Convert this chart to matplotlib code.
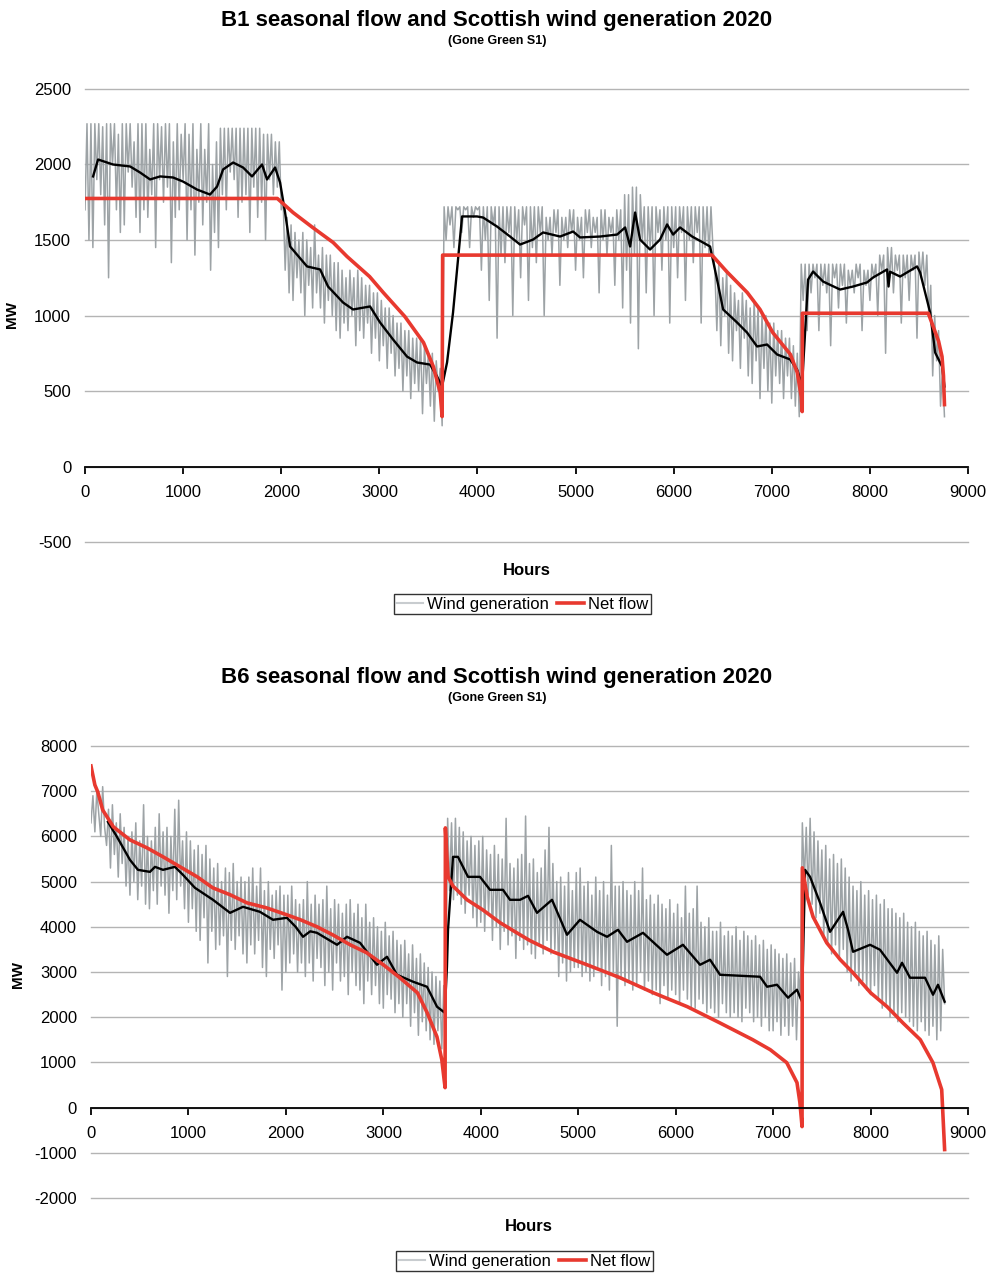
import numpy as np
import matplotlib.pyplot as plt
from matplotlib.lines import Line2D

plt.rcParams["font.family"] = ["Liberation Sans", "DejaVu Sans"]
plt.rcParams["axes.unicode_minus"] = False

# wind generation sampled every 20 hours (0 .. 8760)
wind_hours = np.arange(0, 8761, 20)

b1_wind = [
    1700, 2270, 1500, 2270, 1450, 2270, 1900, 2270, 1800, 2250,
    1600, 2270, 1250, 2270, 2000, 2270, 1700, 2200, 1550, 2270,
    1600, 2270, 1950, 2270, 1850, 2150, 1650, 2270, 1550, 2270,
    1700, 2270, 1650, 2100, 1800, 2270, 1450, 2270, 1900, 2250,
    1750, 2270, 1850, 2270, 1350, 2150, 1650, 2270, 1700, 2200,
    1900, 2270, 1500, 2200, 1700, 2270, 1400, 2100, 1750, 2270,
    1600, 2100, 1750, 2270, 1300, 2000, 1550, 2150, 1450, 2240,
    1800, 2240, 1700, 2240, 1950, 2240, 1900, 2240, 1650, 2240,
    1750, 2240, 1800, 2240, 1550, 2240, 1850, 2240, 1650, 2240,
    1750, 2200, 1500, 2200, 1900, 2200, 1800, 2150, 1850, 2150,
    1700, 1750, 1300, 1650, 1150, 1600, 1100, 1550, 1250, 1500,
    1150, 1550, 1000, 1500, 1200, 1450, 1050, 1600, 1150, 1400,
    1050, 1450, 950, 1400, 1100, 1400, 1000, 1350, 900, 1350,
    850, 1300, 950, 1250, 900, 1300, 1000, 1250, 800, 1300,
    900, 1250, 850, 1200, 950, 1200, 750, 1150, 850, 1150,
    700, 1100, 800, 1050, 650, 1050, 750, 1000, 600, 950,
    650, 950, 500, 900, 600, 900, 450, 850, 550, 850,
    500, 850, 350, 800, 550, 750, 400, 750, 300, 700,
    500, 650, 270, 1720, 1500, 1720, 1600, 1720, 1450, 1720,
    1700, 1720, 1550, 1720, 1700, 1720, 1450, 1720, 1650, 1720,
    1700, 1720, 1300, 1720, 1500, 1720, 1100, 1720, 1600, 1720,
    850, 1720, 1400, 1720, 1350, 1720, 1550, 1720, 1000, 1720,
    1500, 1700, 1250, 1720, 1600, 1720, 1100, 1720, 1450, 1720,
    1350, 1720, 1550, 1720, 1000, 1650, 1500, 1650, 1400, 1700,
    1550, 1700, 1200, 1650, 1500, 1650, 1450, 1700, 1550, 1700,
    1300, 1650, 1500, 1650, 1250, 1700, 1550, 1700, 1450, 1650,
    1550, 1650, 1150, 1700, 1500, 1700, 1400, 1650, 1550, 1650,
    1200, 1700, 1500, 1700, 1050, 1800, 1300, 1800, 950, 1850,
    1400, 1850, 780, 1800, 1500, 1720, 1150, 1720, 1450, 1720,
    1000, 1720, 1550, 1700, 1300, 1720, 1500, 1720, 950, 1720,
    1450, 1720, 1250, 1720, 1550, 1720, 1100, 1720, 1500, 1720,
    1350, 1720, 1550, 1720, 950, 1720, 1450, 1720, 1400, 1720,
    1450, 1300, 900, 1350, 800, 1250, 1000, 1300, 750, 1200,
    700, 1150, 900, 1100, 650, 1150, 850, 1100, 600, 1050,
    550, 1100, 700, 1050, 450, 1000, 650, 1000, 500, 950,
    420, 950, 600, 900, 550, 900, 450, 850, 600, 850,
    450, 800, 400, 750, 330, 1340, 1100, 1340, 900, 1340,
    1150, 1340, 1250, 1340, 900, 1340, 1200, 1340, 1150, 1340,
    800, 1340, 1250, 1340, 1050, 1340, 1200, 1340, 950, 1300,
    1200, 1300, 1150, 1340, 1250, 1340, 900, 1300, 1200, 1300,
    1100, 1340, 1250, 1340, 1000, 1400, 1300, 1400, 750, 1450,
    1250, 1450, 1150, 1400, 1300, 1400, 950, 1400, 1250, 1400,
    1100, 1400, 1300, 1400, 850, 1420, 1250, 1420, 1200, 1400,
    1000, 1200, 600, 1000, 700, 900, 400, 650, 330,
]

b6_wind = [
    6300, 6900, 6100, 7000, 6500, 6000, 7100, 6200, 5800, 6600,
    5300, 6700, 5600, 6300, 5100, 6500, 5400, 6200, 4900, 6000,
    4700, 6100, 5000, 6300, 4600, 5900, 4900, 6700, 4500, 6000,
    4400, 5900, 4800, 6200, 4500, 6500, 4900, 6100, 4700, 6200,
    4300, 6000, 4800, 6600, 4600, 6800, 4900, 5900, 4400, 6100,
    4100, 5900, 4400, 5700, 3900, 5800, 3700, 5600, 4200, 5800,
    3200, 5500, 3900, 5300, 3500, 5400, 3600, 5000, 3800, 5300,
    2900, 5200, 3700, 5400, 3500, 5000, 3800, 5100, 3400, 5000,
    3200, 5100, 3600, 5300, 3400, 4900, 3700, 5300, 3100, 4800,
    2900, 5000, 3500, 4700, 3300, 4800, 3600, 4900, 2600, 4700,
    3000, 4700, 3200, 4900, 3400, 4600, 3000, 4500, 3200, 4600,
    2900, 5000, 3200, 4500, 2800, 4700, 3300, 4500, 3100, 4600,
    2700, 4900, 3000, 4400, 2600, 4600, 3200, 4500, 2800, 4300,
    2900, 4500, 2500, 4600, 3000, 4300, 2700, 4500, 2600, 4200,
    2300, 4500, 2800, 4100, 2500, 4200, 2700, 4000, 2300, 3900,
    2200, 4100, 2500, 3800, 2400, 3900, 2100, 3700, 2300, 3600,
    2000, 3700, 2300, 3400, 1800, 3600, 2100, 3300, 1600, 3400,
    1900, 3200, 1700, 3100, 1500, 3000, 1400, 2900, 1700, 2800,
    1300, 2700, 2500, 6400, 4800, 6300, 4600, 6400, 4700, 6200,
    4500, 6100, 4300, 5900, 4700, 6000, 4200, 5800, 4000, 5900,
    4100, 6000, 3900, 5700, 4300, 5600, 3700, 5800, 4000, 5600,
    3500, 5500, 3900, 6400, 3600, 5400, 3800, 5300, 3300, 5500,
    3700, 5600, 3500, 6450, 3600, 5400, 3400, 5500, 3300, 5200,
    3600, 5300, 3400, 5700, 3700, 6200, 3400, 5400, 3500, 5000,
    2900, 5100, 3200, 4900, 2800, 5200, 3000, 4800, 3100, 5200,
    3100, 5300, 2900, 4900, 3000, 5000, 2800, 4700, 2900, 5100,
    3100, 4800, 2700, 5000, 2900, 4700, 2600, 5800, 3000, 4900,
    1800, 4900, 2900, 5000, 2700, 4800, 2800, 4700, 2600, 5000,
    2700, 4800, 3000, 5300, 2600, 4600, 2800, 4700, 2500, 4500,
    2600, 4700, 2300, 4500, 2700, 4400, 2400, 4600, 2600, 4300,
    2500, 4500, 2300, 4200, 2600, 4900, 2400, 4300, 2200, 4400,
    2200, 4900, 2400, 4100, 2300, 4000, 2100, 4200, 2200, 3900,
    2100, 3900, 2000, 4100, 2300, 3800, 2100, 3900, 2000, 3800,
    2100, 4000, 2000, 3700, 1900, 3900, 2200, 3800, 2100, 3700,
    1900, 3800, 2000, 3600, 1800, 3700, 2000, 3500, 1700, 3600,
    1700, 3500, 1900, 3400, 1600, 3300, 1800, 3400, 1600, 3200,
    1800, 3300, 1500, 3000, 2400, 6300, 5000, 6200, 4700, 6400,
    4500, 6100, 4200, 5900, 4300, 5700, 3800, 5800, 3600, 5500,
    3400, 5600, 3600, 5400, 3300, 5500, 3500, 5300, 3000, 5100,
    2800, 4900, 2900, 4800, 2700, 5000, 2800, 4700, 2600, 4800,
    2500, 4600, 2700, 4700, 2400, 4500, 2200, 4600, 2300, 4400,
    2000, 4400, 2100, 4300, 1900, 4200, 2100, 4300, 2000, 4100,
    1900, 4000, 1800, 4100, 1700, 3900, 1900, 3800, 1700, 3900,
    1600, 3700, 1800, 3600, 1500, 3800, 1700, 3500, 2300,
]

# net flow (seasonal duration curves)
b1_flow_hours = [0, 1960, 2120, 2320, 2530, 2670, 2900, 3040, 3260, 3450,
                 3550, 3620, 3640, 3645, 6390, 6540, 6750, 6880, 7010, 7190,
                 7260, 7300, 7310, 7312, 8595, 8645, 8700, 8735, 8750, 8760]
b1_flow = [1775, 1775, 1682, 1583, 1483, 1391, 1258, 1152, 993, 821,
           662, 490, 331, 1400, 1400, 1291, 1152, 1040, 887, 742,
           622, 464, 364, 1015, 1015, 927, 830, 728, 600, 410]

b6_flow_hours = [0, 40, 70, 120, 230, 400, 575, 740, 915, 1090,
                 1250, 1430, 1600, 1800, 2010, 2150, 2320, 2480, 2660, 2830,
                 3000, 3170, 3350, 3450, 3550, 3600, 3625, 3634, 3637, 3655,
                 3665, 3715, 3860, 4020, 4200, 4370, 4500, 4740, 5090, 5430,
                 5770, 6120, 6450, 6790, 6970, 7140, 7245, 7275, 7297, 7300,
                 7350, 7410, 7550, 7690, 7820, 8000, 8170, 8330, 8510, 8640,
                 8730, 8760]
b6_flow = [7558, 7138, 6983, 6586, 6210, 5923, 5746, 5547, 5326, 5105,
           4862, 4707, 4530, 4420, 4265, 4155, 4000, 3823, 3602, 3425,
           3160, 2873, 2541, 2099, 1569, 1061, 600, 442, 6188, 5450,
           5105, 4900, 4597, 4376, 4088, 3867, 3700, 3447, 3160, 2873,
           2541, 2232, 1878, 1503, 1282, 994, 552, 110, -420, 5304,
           4663, 4221, 3646, 3271, 2983, 2541, 2232, 1878, 1503, 994,
           398, -928]

# smoothed wind generation
b1_avg_hours = [82, 133, 285, 459, 561, 663, 765, 897, 999, 1142,
                1274, 1346, 1407, 1509, 1611, 1702, 1804, 1855, 1937, 1988,
                2039, 2090, 2263, 2396, 2477, 2630, 2732, 2905, 3007, 3140,
                3282, 3384, 3517, 3588, 3639, 3690, 3751, 3843, 3996, 4057,
                4200, 4332, 4434, 4567, 4669, 4842, 4975, 5046, 5250, 5423,
                5505, 5556, 5607, 5657, 5759, 5861, 5933, 5994, 6065, 6188,
                6300, 6371, 6442, 6504, 6646, 6748, 6850, 6952, 7054, 7187,
                7258, 7309, 7370, 7421, 7523, 7696, 7829, 7971, 8033, 8175,
                8190, 8205, 8308, 8481, 8512, 8563, 8614, 8665, 8736, 8760]
b1_avg = [1921, 2033, 2000, 1987, 1947, 1901, 1921, 1914, 1887, 1834,
          1801, 1854, 1967, 2013, 1980, 1921, 2000, 1901, 1980, 1881,
          1682, 1457, 1325, 1305, 1192, 1086, 1040, 1060, 954, 841,
          728, 689, 675, 596, 530, 689, 1020, 1656, 1656, 1649,
          1589, 1523, 1470, 1503, 1550, 1523, 1556, 1517, 1523, 1536,
          1583, 1457, 1682, 1503, 1437, 1503, 1603, 1536, 1583, 1523,
          1483, 1457, 1238, 1040, 954, 887, 795, 808, 742, 709,
          642, 543, 1238, 1291, 1225, 1172, 1192, 1219, 1252, 1305,
          1192, 1290, 1258, 1325, 1285, 1152, 1020, 755, 662, 530]

b6_avg_hours = [174, 267, 400, 482, 605, 657, 739, 862, 944, 1067,
                1252, 1427, 1560, 1734, 1868, 2011, 2100, 2176, 2250, 2319,
                2525, 2627, 2761, 2935, 3038, 3140, 3305, 3448, 3551, 3630,
                3653, 3664, 3715, 3766, 3869, 3992, 4095, 4228, 4300, 4403,
                4485, 4577, 4731, 4885, 5018, 5193, 5296, 5408, 5501, 5665,
                5911, 6075, 6250, 6353, 6455, 6866, 6938, 7040, 7153, 7245,
                7297, 7328, 7379, 7482, 7584, 7718, 7769, 7820, 7995, 8097,
                8272, 8323, 8405, 8559, 8641, 8692, 8760]
b6_avg = [6320, 5989, 5481, 5260, 5215, 5326, 5260, 5326, 5149, 4862,
          4597, 4309, 4442, 4331, 4155, 4199, 4000, 3779, 3900, 3867,
          3602, 3779, 3646, 3160, 3337, 2939, 2785, 2674, 2232, 2099,
          3116, 3934, 5547, 5547, 5105, 5105, 4818, 4818, 4597, 4597,
          4685, 4309, 4597, 3823, 4155, 3889, 3779, 3934, 3668, 3867,
          3381, 3602, 3160, 3271, 2939, 2895, 2674, 2718, 2431, 2608,
          2343, 5260, 5105, 4530, 3889, 4331, 3934, 3447, 3602, 3492,
          2983, 3204, 2873, 2873, 2497, 2718, 2343]

GREY = "#9da3a6"
RED = "#e8392f"
GRID = "#b4b4b4"

fig = plt.figure(figsize=(9.91, 12.73), dpi=100)


def draw_panel(ax, wind, flow_h, flow, avg_h, avg, ylim, ystep):
    ax.plot(wind_hours, wind, color=GREY, lw=1.1, zorder=2)
    ax.plot(avg_h, avg, color="black", lw=1.7, zorder=3)
    ax.plot(flow_h, flow, color=RED, lw=2.6, zorder=4)
    ax.set_xlim(0, 9000)
    ax.set_ylim(*ylim)
    ax.set_yticks(np.arange(ylim[0], ylim[1] + 1, ystep))
    ax.set_xticks(np.arange(0, 9001, 1000))
    ax.yaxis.grid(True, color=GRID, lw=1)
    for gl in ax.get_ygridlines():
        gl.set_clip_on(False)
    ax.set_axisbelow(True)
    for s in ["left", "right", "top"]:
        ax.spines[s].set_visible(False)
    ax.spines["bottom"].set_position(("data", 0))
    ax.spines["bottom"].set_linewidth(1.3)
    ax.spines["bottom"].set_zorder(5)
    ax.tick_params(axis="y", length=0, labelsize=12, pad=10)
    ax.tick_params(axis="x", direction="out", length=5, width=1.3, labelsize=12, pad=8)


ax1 = fig.add_axes([0.0858, 0.5742, 0.891, 0.3559])
draw_panel(ax1, b1_wind, b1_flow_hours, b1_flow, b1_avg_hours, b1_avg, (-500, 2500), 500)

ax2 = fig.add_axes([0.0918, 0.0589, 0.885, 0.3551])
draw_panel(ax2, b6_wind, b6_flow_hours, b6_flow, b6_avg_hours, b6_avg, (-2000, 8000), 1000)

fig.text(0.5015, 0.984, "B1 seasonal flow and Scottish wind generation 2020",
         ha="center", va="center", fontsize=16, fontweight="bold")
fig.text(0.5015, 0.9678, "(Gone Green S1)", ha="center", va="center", fontsize=9, fontweight="bold")
fig.text(0.0121, 0.7526, "MW", rotation=90, ha="center", va="center", fontsize=11, fontweight="bold")
fig.text(0.532, 0.5522, "Hours", ha="center", va="center", fontsize=12, fontweight="bold")

fig.text(0.5015, 0.4674, "B6 seasonal flow and Scottish wind generation 2020",
         ha="center", va="center", fontsize=16, fontweight="bold")
fig.text(0.5015, 0.4517, "(Gone Green S1)", ha="center", va="center", fontsize=9, fontweight="bold")
fig.text(0.018, 0.2341, "MW", rotation=90, ha="center", va="center", fontsize=11, fontweight="bold")
fig.text(0.534, 0.0369, "Hours", ha="center", va="center", fontsize=12, fontweight="bold")

handles = [Line2D([], [], color="#c8cccf", lw=1.5), Line2D([], [], color=RED, lw=2.6)]
labels = ["Wind generation", "Net flow"]
for pos in [(0.527, 0.5255), (0.529, 0.0094)]:
    leg = fig.legend(handles, labels, loc="center", bbox_to_anchor=pos, ncol=2,
                     fontsize=12, frameon=True, fancybox=False, handlelength=1.6,
                     handletextpad=0.25, columnspacing=0.5, borderpad=0.15,
                     borderaxespad=0)
    leg.get_frame().set_edgecolor("black")
    leg.get_frame().set_linewidth(1.0)

fig.savefig("out.png", dpi=100)
